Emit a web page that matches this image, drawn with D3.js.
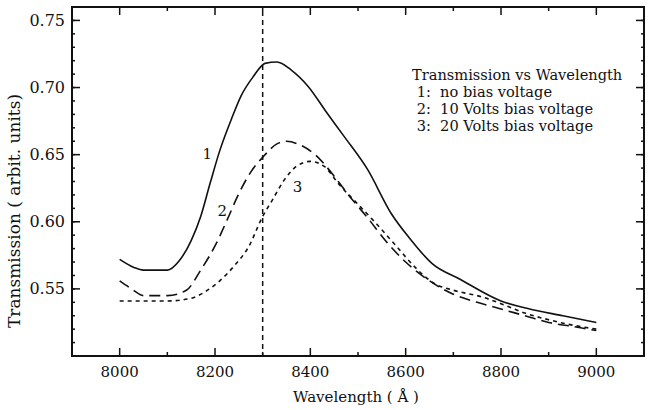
<!DOCTYPE html>
<html>
<head>
<meta charset="utf-8">
<script src="https://cdn.jsdelivr.net/npm/d3@7"></script>
<style>
  html, body { margin: 0; padding: 0; background: #fff; }
  svg { display: block; }
  text { font-family: "DejaVu Serif", "Liberation Serif", serif; fill: #111; }
</style>
</head>
<body>
<svg id="chart" width="648" height="410"></svg>
<script>
// Wavelength (Å) and transmission for each bias voltage
const wl1 = [8000, 8030, 8050, 8100, 8125, 8150, 8170, 8190, 8210, 8235, 8255, 8280, 8305, 8330, 8360, 8395, 8435, 8470, 8520, 8570, 8610, 8655, 8715, 8800, 8860, 8930, 9000];
const tr1 = [0.572, 0.566, 0.564, 0.564, 0.571, 0.586, 0.604, 0.629, 0.653, 0.677, 0.694, 0.708, 0.718, 0.719, 0.713, 0.701, 0.681, 0.664, 0.639, 0.606, 0.587, 0.569, 0.557, 0.541, 0.535, 0.530, 0.525];

const wl2 = [8000, 8025, 8050, 8100, 8140, 8170, 8200, 8225, 8250, 8275, 8300, 8330, 8350, 8380, 8410, 8450, 8480, 8520, 8560, 8600, 8650, 8700, 8750, 8800, 8850, 8900, 8950, 9000];
const tr2 = [0.556, 0.550, 0.545, 0.545, 0.549, 0.564, 0.582, 0.601, 0.621, 0.637, 0.648, 0.658, 0.660, 0.657, 0.650, 0.634, 0.620, 0.603, 0.585, 0.570, 0.556, 0.546, 0.540, 0.535, 0.530, 0.525, 0.522, 0.519];

const wl3 = [8000, 8050, 8100, 8150, 8180, 8210, 8240, 8270, 8300, 8320, 8345, 8370, 8400, 8430, 8460, 8500, 8540, 8580, 8620, 8660, 8700, 8760, 8800, 8850, 8900, 8950, 9000];
const tr3 = [0.541, 0.541, 0.541, 0.543, 0.548, 0.556, 0.567, 0.581, 0.604, 0.616, 0.631, 0.641, 0.645, 0.641, 0.628, 0.613, 0.598, 0.582, 0.566, 0.554, 0.549, 0.544, 0.539, 0.532, 0.527, 0.523, 0.520];

const xTicks = [8000, 8200, 8400, 8600, 8800, 9000];
const xMinor = [8100, 8300, 8500, 8700, 8900];
const yTicks = [0.55, 0.60, 0.65, 0.70, 0.75];
const yMinor = d3.range(0.51, 0.76, 0.01);
const markerWl = 8300;

const legendLines = [
  "Transmission vs Wavelength",
  " 1:  no bias voltage",
  " 2:  10 Volts bias voltage",
  " 3:  20 Volts bias voltage"
];
const curveLabels = [
  { text: "1", wl: 8184, t: 0.651 },
  { text: "2", wl: 8215, t: 0.608 },
  { text: "3", wl: 8373, t: 0.626 }
];

const svg = d3.select("#chart");
const L = 72, R = 644, T = 7, B = 356;

const x = d3.scaleLinear().domain([7900, 9100]).range([L, R]);
const y = d3.scaleLinear().domain([0.50, 0.76]).range([B, T]);

// frame
svg.append("rect")
  .attr("x", L).attr("y", T).attr("width", R - L).attr("height", B - T)
  .attr("fill", "none").attr("stroke", "#111").attr("stroke-width", 2);

const tickG = svg.append("g").attr("stroke", "#111").attr("stroke-width", 1.5);

// bottom / top ticks
xTicks.forEach(v => {
  tickG.append("line").attr("x1", x(v)).attr("x2", x(v)).attr("y1", B).attr("y2", B - 8);
  tickG.append("line").attr("x1", x(v)).attr("x2", x(v)).attr("y1", T).attr("y2", T + 8);
});
xMinor.forEach(v => {
  tickG.append("line").attr("x1", x(v)).attr("x2", x(v)).attr("y1", B).attr("y2", B - 4);
  tickG.append("line").attr("x1", x(v)).attr("x2", x(v)).attr("y1", T).attr("y2", T + 4);
});
// left / right ticks
yTicks.forEach(v => {
  tickG.append("line").attr("x1", L).attr("x2", L + 8).attr("y1", y(v)).attr("y2", y(v));
  tickG.append("line").attr("x1", R).attr("x2", R - 8).attr("y1", y(v)).attr("y2", y(v));
});
yMinor.forEach(v => {
  tickG.append("line").attr("x1", L - 1).attr("x2", L + 3).attr("y1", y(v)).attr("y2", y(v));
  tickG.append("line").attr("x1", R + 1).attr("x2", R - 3).attr("y1", y(v)).attr("y2", y(v));
});

// tick labels
svg.append("g").selectAll("text").data(xTicks).join("text")
  .attr("x", d => x(d)).attr("y", 377)
  .attr("text-anchor", "middle").attr("font-size", 15)
  .text(d => d);

svg.append("g").selectAll("text").data(yTicks).join("text")
  .attr("x", 65).attr("y", d => y(d)).attr("dy", "0.35em")
  .attr("text-anchor", "end").attr("font-size", 16)
  .text(d => d.toFixed(2));

// axis titles
svg.append("text")
  .attr("x", 356).attr("y", 402)
  .attr("text-anchor", "middle").attr("font-size", 15)
  .text("Wavelength ( Å )");

svg.append("text")
  .attr("transform", "translate(20,211) rotate(-90)")
  .attr("text-anchor", "middle").attr("font-size", 17)
  .text("Transmission ( arbit. units)");

// vertical marker line
svg.append("line")
  .attr("x1", x(markerWl)).attr("x2", x(markerWl))
  .attr("y1", T + 4).attr("y2", B)
  .attr("stroke", "#111").attr("stroke-width", 1.5)
  .attr("stroke-dasharray", "5,4");

// curves
const line = d3.line().x(d => x(d[0])).y(d => y(d[1])).curve(d3.curveMonotoneX);
const series = [
  { wl: wl1, tr: tr1, dash: null },
  { wl: wl2, tr: tr2, dash: "11,6" },
  { wl: wl3, tr: tr3, dash: "4,4" }
];
series.forEach(s => {
  svg.append("path")
    .datum(d3.zip(s.wl, s.tr))
    .attr("d", line)
    .attr("fill", "none").attr("stroke", "#111").attr("stroke-width", 1.6)
    .attr("stroke-dasharray", s.dash);
});

// curve labels
svg.append("g").selectAll("text").data(curveLabels).join("text")
  .attr("x", d => x(d.wl)).attr("y", d => y(d.t)).attr("dy", "0.35em")
  .attr("text-anchor", "middle").attr("font-size", 15)
  .text(d => d.text);

// legend
svg.append("g").selectAll("text").data(legendLines).join("text")
  .attr("x", 412).attr("y", (d, i) => 80 + i * 17)
  .attr("font-size", 14.6)
  .attr("xml:space", "preserve")
  .style("white-space", "pre")
  .text(d => d);
</script>
</body>
</html>
